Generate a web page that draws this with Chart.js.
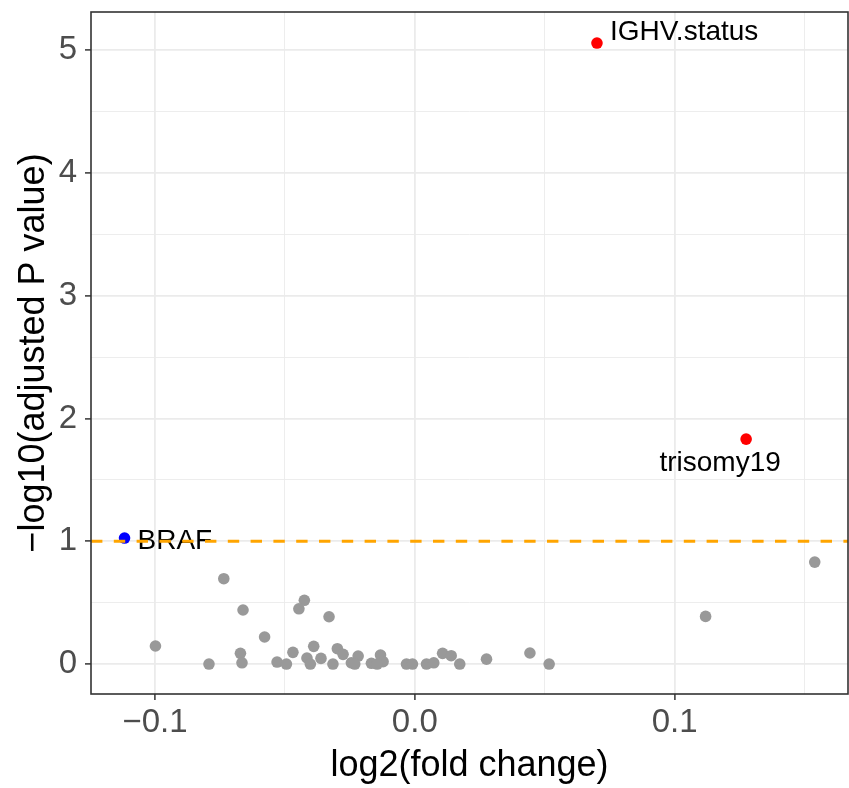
<!DOCTYPE html>
<html>
<head>
<meta charset="utf-8">
<script src="https://cdn.jsdelivr.net/npm/chart.js@4.4.1/dist/chart.umd.min.js"></script>
<style>
  body { margin: 0; background: #fff; }
  #wrap { width: 849px; height: 788px; }
</style>
</head>
<body>
<div id="wrap"><canvas id="volcano" width="849" height="788"></canvas></div>
<script>
// gray = not significant
const grayX = [-0.0735, -0.0661, -0.0578, -0.0998, -0.0671, -0.0665, -0.0792, -0.0530, -0.0494, -0.0469,
               -0.0425, -0.0446, -0.0330, -0.0389, -0.0415, -0.0402, -0.0361, -0.0315, -0.0298, -0.0276,
               -0.0244, -0.0218, -0.0231, -0.0167, -0.0132, -0.0122, -0.0145, -0.0032, -0.0009, 0.0045,
               0.0073, 0.0107, 0.0140, 0.0173, 0.0276, 0.0443, 0.0517, 0.1119, 0.1539];
const grayY = [0.695, 0.440, 0.220, 0.147, 0.087, 0.010, 0.000, 0.016, 0.000, 0.095,
               0.519, 0.450, 0.385, 0.144, 0.049, 0.000, 0.046, 0.000, 0.125, 0.079,
               0.010, 0.065, 0.000, 0.006, 0.073, 0.019, 0.000, 0.000, 0.000, 0.000,
               0.010, 0.087, 0.068, 0.000, 0.040, 0.090, 0.000, 0.388, 0.830];

// significant up (red) and down (blue)
const upNames = ['IGHV.status', 'trisomy19'];
const upX = [0.0701, 0.1275];
const upY = [5.057, 1.832];
const downNames = ['BRAF'];
const downX = [-0.1117];
const downY = [1.026];

const threshold = 1;

const xTicks = [-0.1, -0.05, 0, 0.05, 0.1, 0.15];
const xMajor = [-0.1, 0, 0.1];
const yTicks = [0, 0.5, 1, 1.5, 2, 2.5, 3, 3.5, 4, 4.5, 5];
const yMajor = [0, 1, 2, 3, 4, 5];

function toPoints(xs, ys) {
  return xs.map((x, i) => ({ x: x, y: ys[i] }));
}
function isMajor(v, list) {
  return list.some(m => Math.abs(m - v) < 1e-9);
}
function fmtX(v) {
  return (v < 0 ? '\u2212' : '') + Math.abs(v).toFixed(1);
}
// no label overhang padding, the panel is placed by hand
function noPad(scale) {
  scale.paddingTop = 0;
  scale.paddingBottom = 0;
  scale.paddingLeft = 0;
  scale.paddingRight = 0;
}

// label offsets in pixels from the point (dx, dy, align)
const labelOffsets = {
  'IGHV.status': [13, -11, 'left'],
  'trisomy19': [-26, 24, 'center'],
  'BRAF': [13, 3, 'left']
};

const extras = {
  id: 'extras',
  afterDatasetsDraw(chart) {
    const c = chart.ctx;
    const area = chart.chartArea;
    c.save();
    c.font = '28px "Liberation Sans", Arial, sans-serif';
    c.fillStyle = '#000';
    c.textBaseline = 'middle';
    [[1, upNames], [2, downNames]].forEach(([di, names]) => {
      chart.getDatasetMeta(di).data.forEach((pt, i) => {
        const off = labelOffsets[names[i]];
        c.textAlign = off[2];
        c.fillText(names[i], pt.x + off[0], pt.y + off[1]);
      });
    });

    // threshold line
    const yy = chart.scales.y.getPixelForValue(threshold);
    c.beginPath();
    c.setLineDash([11.4, 11.4]);
    c.strokeStyle = '#FFA500';
    c.lineWidth = 2.8;
    c.moveTo(area.left, yy);
    c.lineTo(area.right, yy);
    c.stroke();
    c.setLineDash([]);

    // panel border
    c.strokeStyle = '#333333';
    c.lineWidth = 1.6;
    c.strokeRect(area.left, area.top, area.right - area.left, area.bottom - area.top);
    c.restore();
  }
};

const ctx = document.getElementById('volcano').getContext('2d');
const volcano = new Chart(ctx, {
  type: 'scatter',
  data: {
    datasets: [
      { label: 'ns', data: toPoints(grayX, grayY), backgroundColor: '#999999', pointRadius: 5.8, pointBorderWidth: 0 },
      { label: 'up', data: toPoints(upX, upY), backgroundColor: '#FF0000', pointRadius: 5.8, pointBorderWidth: 0 },
      { label: 'down', data: toPoints(downX, downY), backgroundColor: '#0000FF', pointRadius: 5.8, pointBorderWidth: 0 }
    ]
  },
  options: {
    responsive: false,
    animation: false,
    devicePixelRatio: 1,
    layout: { autoPadding: false, padding: { top: 12, right: 1, left: 0, bottom: 0 } },
    plugins: {
      legend: { display: false },
      tooltip: { enabled: false }
    },
    scales: {
      x: {
        type: 'linear',
        min: -0.1246,
        max: 0.1667,
        afterBuildTicks: (scale) => { scale.ticks = xTicks.map(v => ({ value: v })); },
        afterFit: (scale) => { scale.height = 94; noPad(scale); },
        ticks: {
          autoSkip: false,
          maxRotation: 0,
          padding: 3,
          color: '#4d4d4d',
          font: { family: '"Liberation Sans", Arial, sans-serif', size: 33 },
          callback: (v) => isMajor(v, xMajor) ? fmtX(v) : ''
        },
        grid: {
          color: '#ebebeb',
          lineWidth: (c) => isMajor(c.tick.value, xMajor) ? 1.8 : 0.9,
          tickColor: (c) => isMajor(c.tick.value, xMajor) ? '#333333' : 'rgba(0,0,0,0)',
          tickLength: 6,
          tickWidth: 1.5
        },
        border: { display: false },
        title: {
          display: true,
          text: 'log2(fold change)',
          color: '#000',
          font: { family: '"Liberation Sans", Arial, sans-serif', size: 36 },
          padding: { top: 0, bottom: 0 }
        }
      },
      y: {
        type: 'linear',
        min: -0.244,
        max: 5.31,
        afterBuildTicks: (scale) => { scale.ticks = yTicks.map(v => ({ value: v })); },
        afterFit: (scale) => { scale.width = 91; noPad(scale); },
        ticks: {
          autoSkip: false,
          padding: 8,
          color: '#4d4d4d',
          font: { family: '"Liberation Sans", Arial, sans-serif', size: 33 },
          callback: (v) => isMajor(v, yMajor) ? String(v) : ''
        },
        grid: {
          color: '#ebebeb',
          lineWidth: (c) => isMajor(c.tick.value, yMajor) ? 1.8 : 0.9,
          tickColor: (c) => isMajor(c.tick.value, yMajor) ? '#333333' : 'rgba(0,0,0,0)',
          tickLength: 6,
          tickWidth: 1.5
        },
        border: { display: false },
        title: {
          display: true,
          text: '\u2212log10(adjusted P value)',
          color: '#000',
          font: { family: '"Liberation Sans", Arial, sans-serif', size: 36 },
          padding: { top: 12, bottom: 0 }
        }
      }
    }
  },
  plugins: [extras]
});
</script>
</body>
</html>
